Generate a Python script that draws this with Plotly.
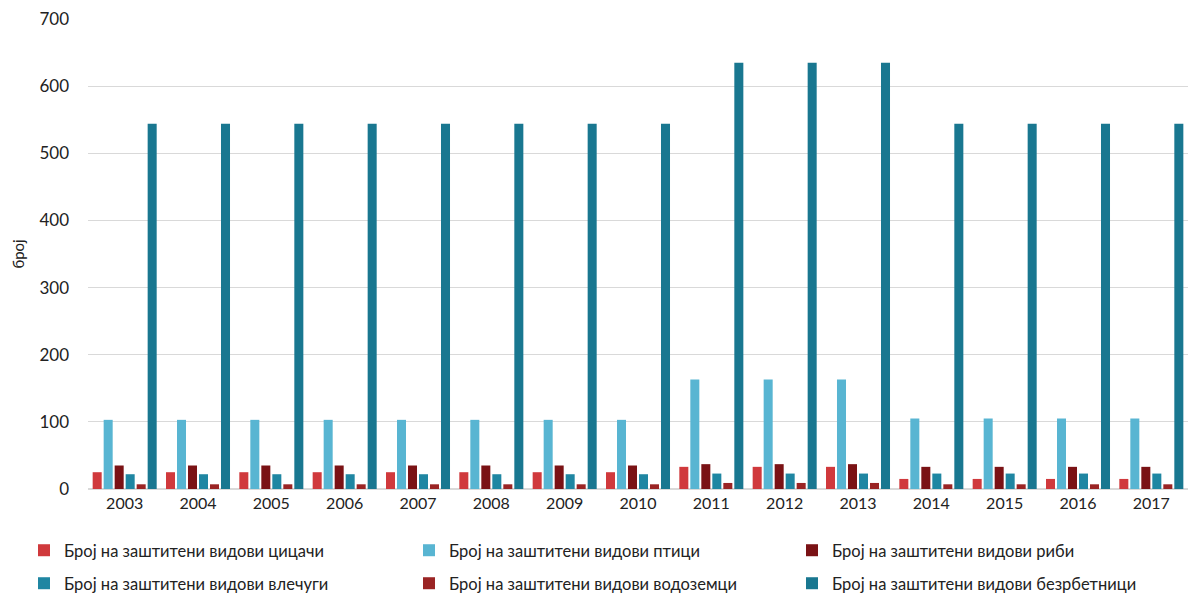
import plotly.graph_objects as go

years = ["2003", "2004", "2005", "2006", "2007", "2008", "2009", "2010",
         "2011", "2012", "2013", "2014", "2015", "2016", "2017"]

mammals = [25, 25, 25, 25, 25, 25, 25, 25, 33, 33, 33, 15, 15, 15, 15]
birds = [103, 103, 103, 103, 103, 103, 103, 103, 163, 163, 163, 105, 105, 105, 105]
fish = [35, 35, 35, 35, 35, 35, 35, 35, 37, 37, 37, 33, 33, 33, 33]
reptiles = [22, 22, 22, 22, 22, 22, 22, 22, 23, 23, 23, 23, 23, 23, 23]
amphibians = [7, 7, 7, 7, 7, 7, 7, 7, 9, 9, 9, 7, 7, 7, 7]
invertebrates = [544, 544, 544, 544, 544, 544, 544, 544, 635, 635, 635, 544, 544, 544, 544]

series = [
    ("Број на заштитени видови цицачи", mammals, "#D0393C"),
    ("Број на заштитени видови птици", birds, "#58B5D2"),
    ("Број на заштитени видови риби", fish, "#7A1215"),
    ("Број на заштитени видови влечуги", reptiles, "#1F86A2"),
    ("Број на заштитени видови водоземци", amphibians, "#9A2424"),
    ("Број на заштитени видови безрбетници", invertebrates, "#197790"),
]

# one small legend per entry, laid out as a 3 x 2 grid under the chart
legend_x = [24, 409, 792]
legend_y = [533, 566]

fig = go.Figure()
legends = {}
for i, (name, vals, col) in enumerate(series):
    key = "legend" if i == 0 else f"legend{i + 1}"
    fig.add_trace(go.Bar(
        x=years, y=vals, name=name,
        marker=dict(color=col, line=dict(width=0)),
        legend=key,
    ))
    legends[key] = dict(
        xref="container", yref="container",
        x=legend_x[i % 3] / 1192, y=1 - legend_y[i // 3] / 599,
        xanchor="left", yanchor="top",
        font=dict(size=16.5, color="#222"),
        bgcolor="rgba(0,0,0,0)",
    )

fig.update_layout(
    barmode="group",
    bargap=0.1,
    bargroupgap=0.18,
    width=1192, height=599,
    margin=dict(l=88, r=4, t=19, b=110, autoexpand=False),
    plot_bgcolor="white",
    paper_bgcolor="white",
    font=dict(family="Lato, Open Sans, sans-serif", color="#222"),
    showlegend=True,
    xaxis=dict(
        showgrid=False,
        tickfont=dict(size=16, color="#222"),
        showline=False,
        ticks="",
        ticklabelstandoff=3,
        automargin=False,
    ),
    yaxis=dict(
        range=[0, 700],
        dtick=100,
        showgrid=True,
        gridcolor="#D9D9D9",
        gridwidth=1,
        zeroline=True,
        zerolinecolor="#D9D9D9",
        tickfont=dict(size=17, color="#222"),
        ticklabelstandoff=18,
        automargin=False,
    ),
    annotations=[dict(
        text="број", textangle=-90,
        xref="paper", yref="paper", x=-0.064, y=0.5,
        xanchor="center", yanchor="middle", showarrow=False,
        font=dict(size=15, color="#222"),
    )],
    **legends,
)

fig.write_html("out.html", config=dict(displayModeBar=False),
               post_script="document.body.style.margin='0px';")
